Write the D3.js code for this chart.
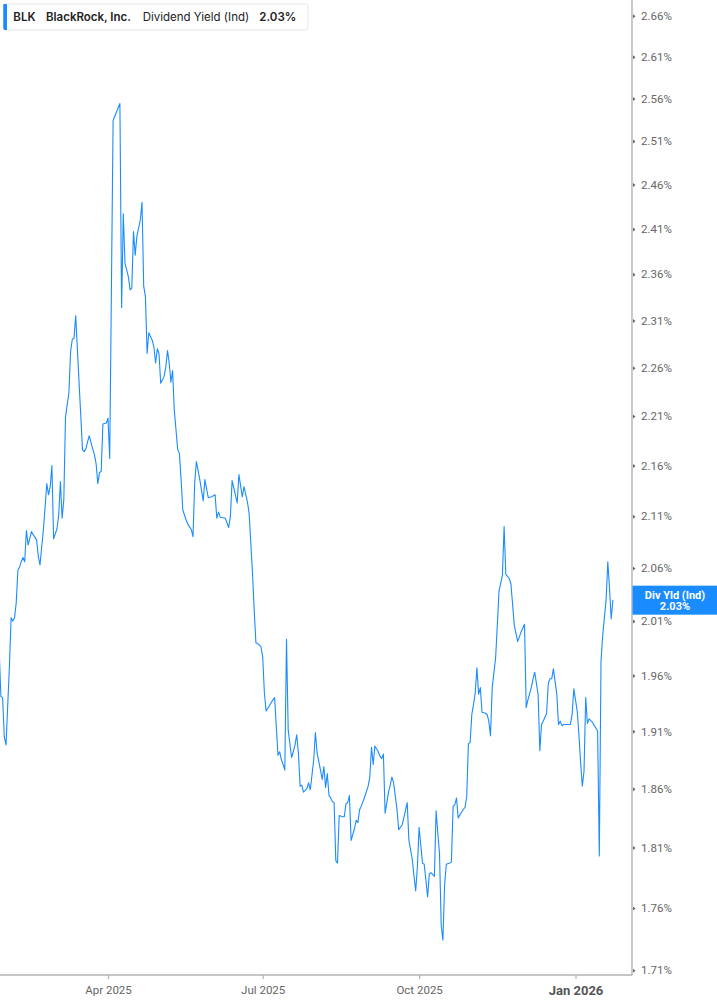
<!DOCTYPE html>
<html><head><meta charset="utf-8">
<script src="https://cdn.jsdelivr.net/npm/d3@7"></script>
<style>body{margin:0;background:#fff}svg{display:block}</style>
</head><body><svg id="chart" width="717" height="1005"></svg>
<script>
// ---- data ----
const dates = [
"2025-01-27","2025-01-28","2025-01-29","2025-01-30","2025-01-31","2025-02-02","2025-02-03","2025-02-04","2025-02-05","2025-02-06",
"2025-02-07","2025-02-08","2025-02-09","2025-02-10","2025-02-11","2025-02-12","2025-02-13","2025-02-15","2025-02-16","2025-02-18",
"2025-02-19","2025-02-20","2025-02-22","2025-02-23","2025-02-24","2025-02-25","2025-02-26","2025-02-27","2025-02-28","2025-03-02",
"2025-03-03","2025-03-04","2025-03-05","2025-03-06","2025-03-07","2025-03-09","2025-03-10","2025-03-11","2025-03-12","2025-03-13",
"2025-03-15","2025-03-16","2025-03-17","2025-03-18","2025-03-19","2025-03-20","2025-03-21","2025-03-22","2025-03-24","2025-03-25",
"2025-03-26","2025-03-27","2025-03-28","2025-03-29","2025-03-31","2025-04-01","2025-04-02","2025-04-04","2025-04-08","2025-04-09",
"2025-04-10","2025-04-11","2025-04-13","2025-04-14","2025-04-15","2025-04-16","2025-04-17","2025-04-18","2025-04-20","2025-04-21",
"2025-04-22","2025-04-23","2025-04-24","2025-04-25","2025-04-27","2025-04-28","2025-04-29","2025-04-30","2025-05-01","2025-05-02",
"2025-05-04","2025-05-05","2025-05-06","2025-05-07","2025-05-08","2025-05-09","2025-05-10","2025-05-12","2025-05-13","2025-05-14",
"2025-05-15","2025-05-17","2025-05-18","2025-05-20","2025-05-21","2025-05-22","2025-05-23","2025-05-25","2025-05-27","2025-05-28",
"2025-05-30","2025-06-01","2025-06-03","2025-06-04","2025-06-05","2025-06-06","2025-06-09","2025-06-11","2025-06-12","2025-06-13",
"2025-06-16","2025-06-17","2025-06-19","2025-06-20","2025-06-22","2025-06-23","2025-06-25","2025-06-26","2025-06-27","2025-06-29",
"2025-06-30","2025-07-01","2025-07-02","2025-07-03","2025-07-05","2025-07-07","2025-07-08","2025-07-09","2025-07-10","2025-07-11",
"2025-07-12","2025-07-13","2025-07-14","2025-07-15","2025-07-16","2025-07-18","2025-07-19","2025-07-20","2025-07-21","2025-07-22",
"2025-07-23","2025-07-24","2025-07-25","2025-07-27","2025-07-28","2025-07-29","2025-07-31","2025-08-01","2025-08-02","2025-08-04",
"2025-08-05","2025-08-06","2025-08-07","2025-08-08","2025-08-09","2025-08-10","2025-08-11","2025-08-12","2025-08-13","2025-08-14",
"2025-08-15","2025-08-17","2025-08-18","2025-08-19","2025-08-20","2025-08-21","2025-08-22","2025-08-24","2025-08-25","2025-08-26",
"2025-08-27","2025-08-28","2025-08-30","2025-09-01","2025-09-02","2025-09-03","2025-09-04","2025-09-05","2025-09-07","2025-09-08",
"2025-09-09","2025-09-10","2025-09-11","2025-09-13","2025-09-14","2025-09-15","2025-09-16","2025-09-18","2025-09-19","2025-09-21",
"2025-09-22","2025-09-24","2025-09-25","2025-09-27","2025-09-28","2025-09-29","2025-09-30","2025-10-01","2025-10-03","2025-10-04",
"2025-10-05","2025-10-06","2025-10-07","2025-10-08","2025-10-10","2025-10-11","2025-10-12","2025-10-13","2025-10-14","2025-10-15",
"2025-10-16","2025-10-17","2025-10-19","2025-10-20","2025-10-21","2025-10-22","2025-10-23","2025-10-24","2025-10-26","2025-10-28",
"2025-10-29","2025-10-30","2025-10-31","2025-11-01","2025-11-02","2025-11-03","2025-11-04","2025-11-05","2025-11-06","2025-11-07",
"2025-11-09","2025-11-10","2025-11-11","2025-11-12","2025-11-13","2025-11-15","2025-11-16","2025-11-17","2025-11-19","2025-11-20",
"2025-11-21","2025-11-23","2025-11-24","2025-11-26","2025-11-28","2025-11-30","2025-12-02","2025-12-03","2025-12-04","2025-12-06",
"2025-12-07","2025-12-08","2025-12-10","2025-12-11","2025-12-12","2025-12-13","2025-12-15","2025-12-16","2025-12-17","2025-12-18",
"2025-12-19","2025-12-21","2025-12-22","2025-12-23","2025-12-24","2025-12-25","2025-12-27","2025-12-29","2025-12-30","2025-12-31",
"2026-01-02","2026-01-03","2026-01-04","2026-01-05","2026-01-06","2026-01-07","2026-01-08","2026-01-09","2026-01-11","2026-01-12",
"2026-01-13","2026-01-14","2026-01-15","2026-01-16","2026-01-17","2026-01-19","2026-01-20","2026-01-21","2026-01-22","2026-01-23"
];
const yields = [
1.982,1.941,1.940,1.905,1.898,1.968,2.013,2.010,2.013,2.027,
2.058,2.061,2.066,2.070,2.066,2.096,2.082,2.095,2.092,2.087,
2.071,2.063,2.097,2.119,2.142,2.131,2.139,2.160,2.088,2.098,
2.111,2.144,2.108,2.126,2.209,2.234,2.277,2.290,2.291,2.315,
2.244,2.210,2.176,2.174,2.177,2.184,2.190,2.183,2.171,2.162,
2.142,2.153,2.154,2.202,2.203,2.208,2.167,2.534,2.554,2.324,
2.427,2.372,2.357,2.343,2.345,2.407,2.381,2.402,2.420,2.440,
2.347,2.336,2.275,2.297,2.289,2.282,2.265,2.280,2.275,2.244,
2.251,2.261,2.278,2.265,2.245,2.257,2.216,2.176,2.172,2.146,
2.116,2.106,2.102,2.097,2.090,2.143,2.164,2.146,2.125,2.146,
2.128,2.129,2.131,2.108,2.114,2.109,2.108,2.099,2.110,2.145,
2.123,2.151,2.129,2.139,2.124,2.113,2.055,2.020,1.990,1.988,
1.986,1.977,1.944,1.928,1.933,1.938,1.940,1.914,1.889,1.892,
1.885,1.881,1.876,1.993,1.911,1.887,1.892,1.898,1.907,1.891,
1.862,1.863,1.857,1.860,1.865,1.859,1.885,1.909,1.891,1.876,
1.868,1.879,1.861,1.873,1.854,1.852,1.849,1.848,1.799,1.797,
1.837,1.836,1.836,1.847,1.848,1.854,1.816,1.826,1.833,1.831,
1.842,1.845,1.853,1.862,1.870,1.896,1.881,1.897,1.892,1.888,
1.886,1.890,1.839,1.857,1.863,1.870,1.865,1.842,1.825,1.829,
1.835,1.848,1.816,1.800,1.786,1.774,1.794,1.827,1.797,1.796,
1.783,1.769,1.788,1.789,1.786,1.841,1.822,1.805,1.746,1.734,
1.779,1.796,1.797,1.798,1.845,1.846,1.852,1.835,1.840,1.844,
1.853,1.899,1.900,1.925,1.934,1.944,1.967,1.943,1.949,1.927,
1.926,1.925,1.919,1.906,1.949,1.976,2.006,2.038,2.053,2.100,
2.054,2.050,2.045,2.006,1.991,2.000,2.007,1.931,1.938,1.949,
1.957,1.963,1.943,1.893,1.916,1.919,1.926,1.953,1.957,1.957,
1.966,1.943,1.916,1.919,1.915,1.916,1.916,1.916,1.925,1.948,
1.928,1.907,1.883,1.862,1.875,1.940,1.917,1.921,1.918,1.915,
1.913,1.910,1.803,1.973,1.997,2.030,2.066,2.041,2.012,2.030
];
const yTickValues = [1.71,1.76,1.81,1.86,1.91,1.96,2.01,2.06,2.11,2.16,2.21,2.26,2.31,2.36,2.41,2.46,2.51,2.56,2.61,2.66];
const xTickDates = ["2025-04-01","2025-07-01","2025-10-01","2026-01-01"];
const xTickLabels = ["Apr 2025","Jul 2025","Oct 2025","Jan 2026"];
const legendParts = ["BLK","BlackRock, Inc.","Dividend Yield (Ind)","2.03%"];
const lastLabelLines = ["Div Yld (Ind)","2.03%"];

// ---- drawing ----
const BLUE = "#1a8cff";
const svg = d3.select("#chart");
const plotRight = 632, axisY = 975;
const parse = d3.utcParse("%Y-%m-%d");
const data = dates.map((d,i)=>({date:parse(d), value:yields[i]}));

const x = d3.scaleUtc()
  .domain([new Date(Date.UTC(2025,0,27,11,17)), new Date(Date.UTC(2026,1,3,5,30))])
  .range([0, plotRight]);
const y = d3.scaleLog().domain([1.71, 2.66]).range([970.3, 15.7]);

svg.append("rect").attr("width",717).attr("height",1005).attr("fill","#fff");

// line
svg.append("path").datum(data)
  .attr("fill","none").attr("stroke",BLUE).attr("stroke-width",1.1)
  .attr("stroke-linejoin","round")
  .attr("d", d3.line().x(d=>x(d.date)).y(d=>y(d.value)));

// axis lines
svg.append("line").attr("x1",0).attr("x2",plotRight+0.5).attr("y1",axisY).attr("y2",axisY)
  .attr("stroke","#b3b3b3").attr("stroke-width",1.5);
svg.append("line").attr("x1",plotRight).attr("x2",plotRight).attr("y1",0).attr("y2",axisY)
  .attr("stroke","#a6a6a6").attr("stroke-width",1.2);

// y axis
const yAxis = svg.append("g").attr("transform",`translate(${plotRight},0)`)
  .call(d3.axisRight(y).tickValues(yTickValues).tickFormat(d=>d.toFixed(2)+"%").tickSize(0).tickPadding(9));
yAxis.select(".domain").remove();
yAxis.selectAll(".tick text").attr("fill","#666").attr("font-family","Roboto, 'Open Sans', sans-serif")
  .attr("font-size","11.5px");
yAxis.selectAll(".tick").append("path").attr("d","M1,-2L3.5,0L1,2Z").attr("fill","#666");

// x axis
const xAxis = svg.append("g").attr("transform",`translate(0,${axisY})`)
  .call(d3.axisBottom(x).tickValues(xTickDates.map(parse)).tickFormat((d,i)=>xTickLabels[i]).tickSize(4).tickPadding(6));
xAxis.select(".domain").remove();
xAxis.selectAll(".tick line").attr("stroke","#b3b3b3").attr("stroke-width",1.2);
xAxis.selectAll(".tick text")
  .attr("font-family","Roboto, 'Open Sans', sans-serif")
  .attr("y",15).attr("dy","0.35em")
  .attr("font-size",(d,i)=> i===3 ? "13px" : "11.5px")
  .attr("font-weight",(d,i)=> i===3 ? "bold" : "normal")
  .attr("fill",(d,i)=> i===3 ? "#555" : "#666");

// last value label
const last = data[data.length-1];
const ly = y(last.value);
const lbl = svg.append("g");
lbl.append("rect").attr("x",plotRight+0.5).attr("y",ly-14).attr("width",717-plotRight).attr("height",29).attr("fill",BLUE);
lbl.selectAll("text").data(lastLabelLines).join("text")
  .attr("x",675).attr("y",(d,i)=>ly-5+i*11).attr("dy","0.35em")
  .attr("text-anchor","middle").attr("fill","#fff")
  .attr("font-family","Roboto, sans-serif").attr("font-size","11px").attr("font-weight","bold")
  .text(d=>d);

// legend
const lg = svg.append("g");
lg.append("rect").attr("x",3.5).attr("y",4).attr("width",304.5).attr("height",26).attr("rx",3)
  .attr("fill","#fff").attr("stroke","#e6e6e6").attr("stroke-width",1);
lg.append("path").attr("d","M7,4 L3.5,4 Q3.5,4 3.5,7 L3.5,27 Q3.5,30 7,30 Z").attr("fill",BLUE);
lg.append("rect").attr("x",3.5).attr("y",4).attr("width",3.5).attr("height",26).attr("rx",1.5).attr("fill",BLUE);
const legX = [13.3, 46, 142.7, 259.3];
const legW = ["bold","bold","normal","bold"];
lg.selectAll("text").data(legendParts).join("text")
  .attr("x",(d,i)=>legX[i]).attr("y",17).attr("dy","0.35em")
  .attr("font-family","Inter, Roboto, sans-serif").attr("font-size","11.5px")
  .attr("font-weight",(d,i)=>legW[i]==="bold"?600:400)
  .attr("fill","#222").text(d=>d);
</script>
</body></html>
